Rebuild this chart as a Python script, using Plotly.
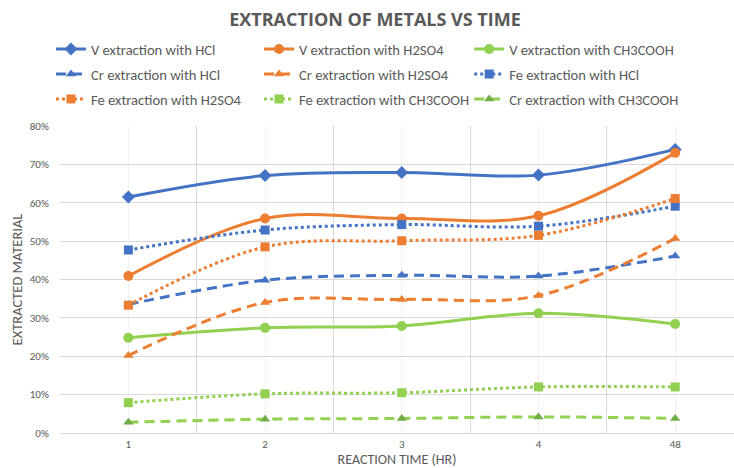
import plotly.graph_objects as go

# Reaction time categories (hours)
reaction_time = ["1", "2", "3", "4", "48"]

# Extracted fraction per metal / leaching agent
v_hcl = [0.615, 0.671, 0.679, 0.672, 0.739]
v_h2so4 = [0.409, 0.559, 0.559, 0.566, 0.730]
v_ch3cooh = [0.248, 0.274, 0.279, 0.312, 0.284]
cr_hcl = [0.335, 0.398, 0.411, 0.409, 0.461]
cr_h2so4 = [0.202, 0.340, 0.348, 0.358, 0.507]
fe_hcl = [0.477, 0.529, 0.543, 0.539, 0.591]
fe_h2so4 = [0.333, 0.485, 0.501, 0.515, 0.611]
fe_ch3cooh = [0.079, 0.102, 0.105, 0.120, 0.120]
cr_ch3cooh = [0.028, 0.036, 0.038, 0.042, 0.038]

BLUE = "#4472C4"
ORANGE = "#ED7D31"
GREEN = "#92D050"
DARK_GREEN = "#70AD47"
TEXT = "#595959"
FONT = "Carlito, Lato, sans-serif"

DASH = "10px,6px"
DOT = "3px,3px"

xpos = list(range(len(reaction_time)))

# name, values, line colour, marker colour, dash, symbol, size, legend column
series = [
    ("V extraction with HCl", v_hcl, BLUE, BLUE, "solid", "diamond", 10, "legend"),
    ("V extraction with H2SO4", v_h2so4, ORANGE, ORANGE, "solid", "circle", 10, "legend2"),
    ("V extraction with CH3COOH", v_ch3cooh, GREEN, GREEN, "solid", "circle", 10, "legend3"),
    ("Cr extraction with HCl", cr_hcl, BLUE, BLUE, DASH, "triangle-up", 9, "legend"),
    ("Cr extraction with H2SO4", cr_h2so4, ORANGE, ORANGE, DASH, "triangle-up", 9, "legend2"),
    ("Fe extraction with HCl", fe_hcl, BLUE, BLUE, DOT, "square", 9, "legend3"),
    ("Fe extraction with H2SO4", fe_h2so4, ORANGE, ORANGE, DOT, "square", 9, "legend"),
    ("Fe extraction with CH3COOH", fe_ch3cooh, GREEN, GREEN, DOT, "square", 9, "legend2"),
    ("Cr extraction with CH3COOH", cr_ch3cooh, GREEN, DARK_GREEN, DASH, "triangle-up", 9, "legend3"),
]

fig = go.Figure()
for name, vals, lcolor, mcolor, dash, symbol, size, leg in series:
    fig.add_trace(go.Scatter(
        x=xpos, y=vals, name=name, mode="lines+markers",
        legend=leg, legendgroup=name,
        line=dict(color=lcolor, width=3, dash=dash, shape="spline", smoothing=1),
        marker=dict(color=mcolor, symbol=symbol, size=size, line=dict(width=0)),
    ))


def legend_column(x_left):
    return dict(
        orientation="v", x=x_left, xanchor="left", y=1.3029, yanchor="top",
        tracegroupgap=3, traceorder="grouped",
        font=dict(size=14.6, color=TEXT, family=FONT),
        bgcolor="rgba(0,0,0,0)", itemclick=False, itemdoubleclick=False,
    )


fig.update_layout(
    width=734, height=468,
    margin=dict(l=60, r=0, t=126, b=35),
    paper_bgcolor="white", plot_bgcolor="white",
    font=dict(family=FONT, color=TEXT),
    title=dict(
        text="<b>EXTRACTION OF METALS VS TIME</b>",
        font=dict(size=18, color=TEXT, family="Open Sans, sans-serif"),
        x=375 / 734, xanchor="center", y=1 - 20 / 468, yanchor="middle",
    ),
    legend=legend_column(-0.0134),
    legend2=legend_column(0.2953),
    legend3=legend_column(0.6071),
    showlegend=True,
)

fig.update_xaxes(
    range=[-0.5, 4.43], automargin=False,
    tickmode="array", tickvals=xpos, ticktext=reaction_time,
    showgrid=True, gridcolor="#F2F2F2", gridwidth=1,
    minor=dict(tickvals=[i - 0.5 for i in xpos], showgrid=True,
               gridcolor="#D9D9D9", gridwidth=1),
    showline=True, linecolor="#D9D9D9", linewidth=1,
    zeroline=False, ticks="outside", ticklen=1, tickcolor="rgba(0,0,0,0)",
    tickfont=dict(size=11, color=TEXT),
    title=dict(text="REACTION TIME (HR)", font=dict(size=14, color=TEXT), standoff=3),
)
fig.update_yaxes(
    range=[0, 0.8], dtick=0.1, tickformat=".0%", automargin=False,
    showgrid=True, gridcolor="#D9D9D9", gridwidth=1,
    zeroline=False, showline=False,
    ticks="outside", ticklen=8, tickcolor="rgba(0,0,0,0)",
    tickfont=dict(size=11, color=TEXT),
    title=dict(text="EXTRACTED MATERIAL", font=dict(size=14.5, color=TEXT), standoff=3),
)

fig.write_html("out.html")
